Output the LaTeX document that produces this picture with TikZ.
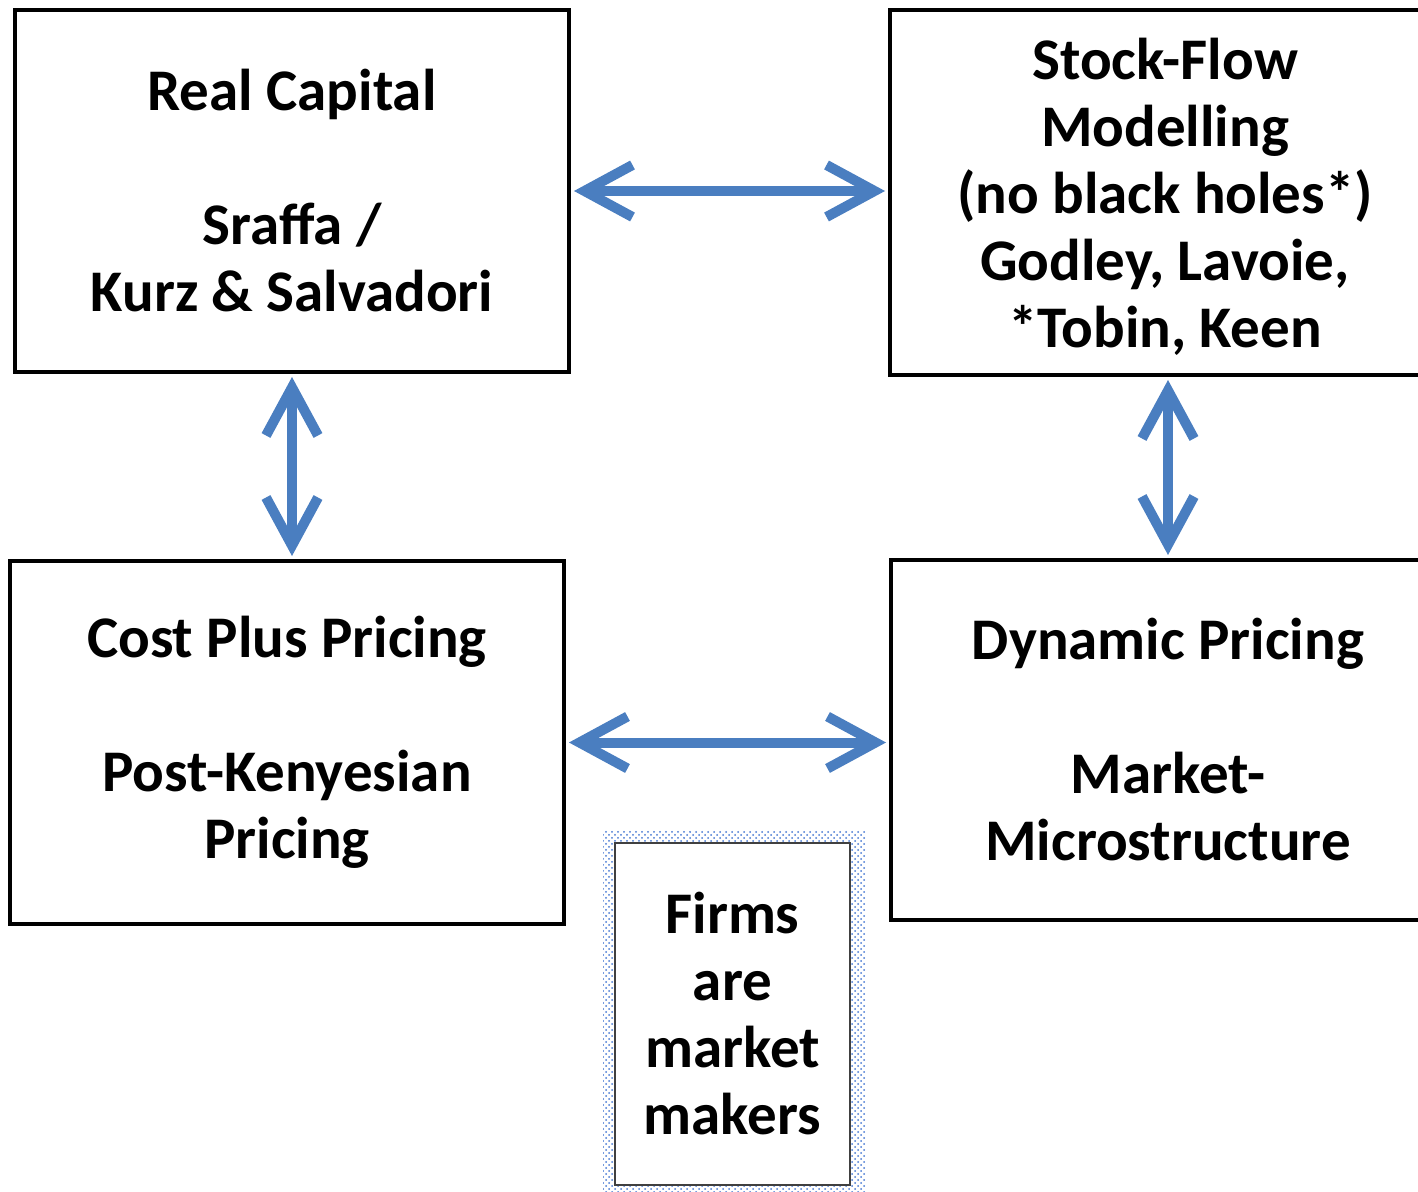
\documentclass[tikz,border=0pt]{standalone}
\usepackage{fontspec}
\setmainfont{Carlito}
\usetikzlibrary{arrows.meta,patterns}
\definecolor{arrowblue}{RGB}{74,126,192}
\definecolor{bandblue}{RGB}{70,120,210}
\begin{document}
\begin{tikzpicture}[x=0.5pt,y=-0.5pt,
  boxtext/.style={inner sep=0pt,align=center,
    font=\bfseries\fontsize{29.5}{33.5}\selectfont},
  box/.style={boxtext,draw=black,line width=2pt,rectangle},
  link/.style={draw=arrowblue,line width=5pt,
    {Straight Barb[length=24pt,width=26pt,line width=5pt]}-{Straight Barb[length=24pt,width=26pt,line width=5pt]},
    shorten <=1.5pt, shorten >=1.5pt}]
\useasboundingbox (0,0) rectangle (1418,1192);
\node[box,minimum width=277pt,minimum height=181pt] (rc) at (292,191)
  {Real Capital\\[33.5pt]Sraffa /\\Kurz \& Salvadori};
\node[box,minimum width=275pt,minimum height=182.5pt] (sf) at (1165,192.5) {};
\node[boxtext] (sft) at (1165,196.5)
  {Stock-Flow\\Modelling\\(no black holes*)\\Godley, Lavoie,\\*Tobin, Keen};
\node[box,minimum width=277pt,minimum height=181.5pt] (cp) at (287,742.5)
  {Cost Plus Pricing\\[33.5pt]Post-Kenyesian\\Pricing};
\node[box,minimum width=277pt,minimum height=180pt] (dp) at (1168,740)
  {Dynamic Pricing\\[33.5pt]Market-\\Microstructure};
\fill[pattern=crosshatch dots,pattern color=bandblue,even odd rule]
  (603,830) rectangle (865,1192) (615,843) rectangle (850,1185);
\node[box,draw=black!75,line width=1.2pt,minimum width=117.5pt,minimum height=171pt] (fm) at (732.5,1014)
  {Firms\\are\\market\\makers};
\draw[link] (rc.east) -- (sf.west |- rc.east);
\draw[link] (rc.south) -- (rc.south |- cp.north);
\draw[link] (sf.south -| dp.north) -- (dp.north);
\draw[link] (cp.east) -- (dp.west |- cp.east);
\end{tikzpicture}
\end{document}
